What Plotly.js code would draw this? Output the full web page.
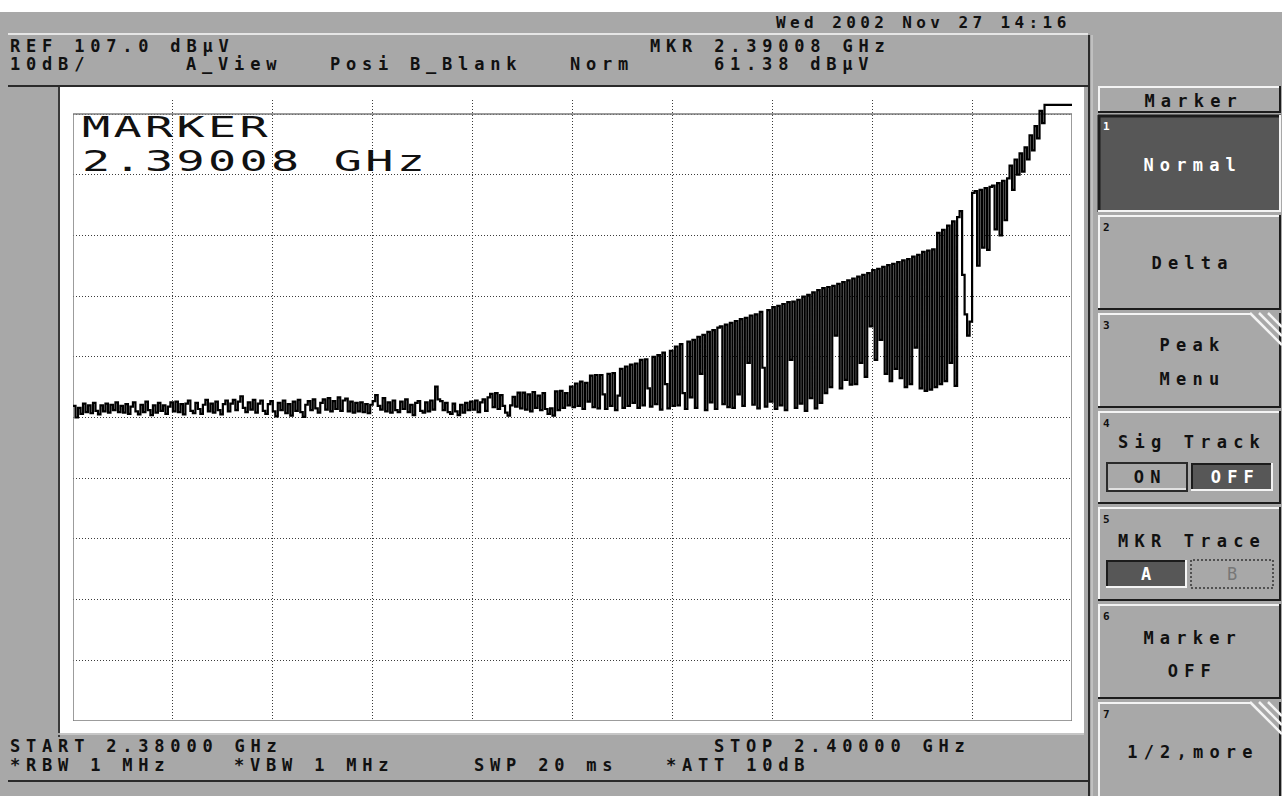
<!DOCTYPE html>
<html>
<head>
<meta charset="utf-8">
<script src="https://cdn.plot.ly/plotly-3.0.1.min.js"></script>
<style>
  html, body { margin: 0; padding: 0; background: #a8a8a8; overflow: hidden; }
  #scr { width: 1282px; height: 796px; }
</style>
<style id="textStyle"></style>
</head>
<body>
<div id="scr"></div>
<script>
// Sweep settings shown on the analyzer screen
const START_GHZ = 2.38000;
const STOP_GHZ = 2.40000;
const REF_DBUV = 107.0;
const DB_PER_DIV = 10;
const DIVISIONS = 10;
const MARKER_GHZ = "2.39008";
const MARKER_DBUV = "61.38";

// Trace A, dBµV, one value per sweep point from START to STOP
const traceA = [
  58.9, 57.0, 58.6, 57.6, 59.3, 57.9, 59.0, 57.7, 59.4, 58.1, 57.5, 59.0, 58.0, 59.3, 57.8, 59.1, 58.2, 59.5, 57.9, 58.9,
  57.8, 59.2, 57.6, 58.8, 59.5, 58.0, 57.5, 59.1, 57.9, 59.6, 58.2, 57.4, 59.0, 57.8, 59.4, 58.1, 59.0, 57.6, 58.8, 59.5,
  58.0, 59.6, 57.9, 59.2, 57.5, 59.3, 59.8, 58.1, 57.7, 59.4, 58.4, 57.6, 59.1, 59.9, 58.0, 59.3, 57.8, 59.6, 58.2, 57.5,
  59.2, 59.8, 58.0, 59.3, 59.9, 58.2, 59.6, 60.5, 58.6, 57.9, 59.5, 58.3, 59.9, 57.8, 59.3, 59.8, 58.1, 57.6, 59.2, 59.7,
  58.0, 57.2, 59.4, 58.2, 59.8, 57.7, 59.2, 57.3, 59.6, 58.1, 59.9, 57.9, 57.1, 59.1, 59.7, 58.2, 60.0, 58.5, 57.8, 59.4,
  60.0, 58.3, 60.2, 58.0, 59.7, 58.4, 60.3, 58.1, 59.8, 60.1, 58.0, 59.6, 57.8, 59.4, 58.0, 59.5, 57.9, 59.2, 57.7, 59.1,
  59.7, 60.7, 58.9, 58.3, 60.2, 58.0, 59.5, 57.8, 59.8, 58.2, 57.9, 59.6, 58.4, 60.0, 57.9, 59.1, 57.4, 59.4, 59.7, 58.1,
  57.8, 59.5, 58.0, 59.8, 58.3, 62.1, 60.0, 59.7, 58.2, 59.4, 57.9, 57.6, 59.3, 58.0, 57.4, 59.1, 57.8, 59.4, 58.2, 59.6,
  58.3, 59.8, 57.9, 59.5, 60.0, 58.1, 60.3, 60.9, 58.7, 61.0, 58.4, 60.7, 58.9, 57.8, 57.3, 59.0, 60.4, 58.8, 61.1, 58.5,
  61.1, 58.3, 60.8, 58.0, 61.2, 58.6, 60.6, 58.2, 61.0, 58.4, 57.6, 58.5, 57.3, 61.3, 58.2, 61.4, 58.6, 61.0, 59.0, 62.1,
  58.7, 62.6, 58.9, 62.9, 58.4, 62.7, 59.6, 63.9, 58.7, 64.0, 58.5, 64.0, 60.8, 58.4, 64.2, 58.9, 64.3, 58.2, 60.6, 65.0,
  58.6, 65.4, 58.9, 65.7, 59.4, 65.9, 58.6, 66.5, 59.0, 66.6, 61.8, 58.8, 67.0, 59.2, 67.3, 58.3, 67.7, 62.5, 58.5, 68.0,
  58.9, 68.7, 59.0, 69.1, 61.0, 58.4, 69.5, 60.3, 69.8, 58.6, 70.3, 64.2, 70.6, 58.2, 71.1, 59.5, 71.4, 58.4, 71.8, 72.0,
  59.2, 72.3, 58.7, 72.6, 58.6, 72.9, 60.8, 73.2, 58.9, 73.4, 66.0, 73.8, 59.1, 74.0, 58.5, 74.4, 65.2, 58.8, 74.7, 59.6,
  75.2, 58.4, 75.4, 59.0, 75.7, 58.2, 76.0, 66.5, 76.1, 58.6, 76.4, 59.3, 76.9, 58.1, 77.2, 60.2, 77.6, 58.5, 78.0, 59.4,
  78.3, 61.0, 78.5, 62.0, 78.7, 70.5, 79.0, 61.8, 79.3, 63.2, 79.6, 62.4, 79.9, 62.5, 80.2, 66.0, 80.5, 63.7, 80.8, 72.0,
  81.3, 66.5, 81.5, 69.8, 81.8, 64.2, 82.1, 63.0, 82.3, 65.0, 82.6, 63.5, 82.9, 62.0, 83.1, 62.5, 83.5, 68.5, 83.8, 61.8,
  84.3, 61.4, 84.5, 61.6, 84.7, 62.0, 87.4, 62.5, 87.9, 63.0, 88.6, 66.0, 89.3, 62.2, 90.0, 91.0, 80.5, 74.0, 70.5, 72.8,
  94.0, 94.3, 82.0, 94.5, 85.0, 94.8, 84.6, 95.0, 95.2, 88.0, 95.6, 87.0, 96.0, 89.5, 96.4, 98.5, 94.5, 99.5, 97.0, 100.5,
  97.5, 101.5, 99.5, 103.5, 101.0, 105.0, 103.0, 107.5, 105.5, 108.5, 108.5, 108.5, 108.5, 108.5, 108.5, 108.5, 108.5, 108.5, 108.5, 108.5,
  108.5
];

// Screen annotations
const headerLeft = ["REF 107.0 dBµV", "10dB/", "A_View", "Posi", "B_Blank", "Norm"];
const dateText = "Wed 2002 Nov 27 14:16";
const footerTexts = ["START 2.38000 GHz", "STOP 2.40000 GHz", "*RBW 1 MHz", "*VBW 1 MHz", "SWP 20 ms", "*ATT 10dB"];
const softkeyTitle = "Marker";
const softkeyLabels = [["Normal"], ["Delta"], ["Peak", "Menu"], ["Sig Track"], ["MKR Trace"], ["Marker", "OFF"], ["1/2,more"]];

// ---- screen geometry (pixels) ----
const W = 1282, H = 796;
const PL = 73, PR = 1072, PT = 100, PB = 721;     // plotting area
const GRID_TOP = 114;                              // top graticule line (REF level)
const pxPerDb = (PB - GRID_TOP) / (DB_PER_DIV * DIVISIONS);
const bottomDb = REF_DBUV - DB_PER_DIV * DIVISIONS;
const topDb = REF_DBUV + (GRID_TOP - PT) / pxPerDb;

const fx = p => (p - PL) / (PR - PL);
const fy = p => (PB - p) / (PB - PT);

const GRAY = '#a8a8a8', DARKKEY = '#575757', HI = '#f4f4f4', LO = '#1c1c1c';
const shapes = [];

function box(x0, y0, x1, y1, fill, line) {
  shapes.push({type: 'rect', xref: 'paper', yref: 'paper', layer: 'below',
    x0: fx(x0), x1: fx(x1), y0: fy(y1), y1: fy(y0), fillcolor: fill,
    line: line || {width: 0}});
}
function seg(x0, y0, x1, y1, color, w, dash) {
  shapes.push({type: 'line', xref: 'paper', yref: 'paper', layer: 'above',
    x0: fx(x0), y0: fy(y0), x1: fx(x1), y1: fy(y1),
    line: {color: color, width: w, dash: dash || 'solid'}});
}
function bevel(x0, y0, x1, y1, fill, pressed, topStop) {
  const tl = pressed ? LO : HI, br = pressed ? HI : LO;
  box(x0, y0, x1, y1, fill);
  seg(x0, y0 + 1, topStop || x1, y0 + 1, tl, pressed ? 3 : 2);
  seg(x0 + 1, y0, x0 + 1, y1, tl, pressed ? 3 : 2);
  seg(x0, y1 - 1, x1, y1 - 1, br, 2);
  seg(x1 - 1, y0, x1 - 1, y1, br, 2);
}
function corner(yTop) {
  [1250, 1259, 1268].forEach(x0 => seg(x0, yTop, 1282, yTop + (1282 - x0), HI, 2.5));
}

// page frame
box(0, 0, W, 12, '#ffffff');
seg(8, 34, 1088, 34, '#e6e6e6', 2);
seg(8, 86, 1088, 86, '#2a2a2a', 2);
seg(1089, 35, 1089, H, '#2a2a2a', 2);
seg(1092, 35, 1092, H, '#d8d8d8', 1);
seg(8, 781, 1088, 781, '#2a2a2a', 2);
// white display panel
box(58, 87, 1084, 733, '#ffffff');
seg(59, 87, 59, 737, '#3a3a3a', 2);
seg(58, 734, 1084, 734, '#d0d0d0', 1.5);

// graticule frame
shapes.push({type: 'rect', xref: 'x', yref: 'y', layer: 'between',
  x0: START_GHZ, x1: STOP_GHZ, y0: bottomDb, y1: REF_DBUV,
  line: {color: '#7c7c7c', width: 1.5}, fillcolor: 'rgba(0,0,0,0)'});

// softkeys
const keyTops = [115, 215, 313, 411, 507, 604, 702];
const keyBots = [212, 310, 408, 504, 601, 699, 800];
bevel(1098, 86, 1281, 113, GRAY, false);
keyTops.forEach((t, i) => {
  const hasCorner = (i === 2 || i === 6);
  bevel(1098, t, 1281, keyBots[i], i === 0 ? DARKKEY : GRAY, i === 0, hasCorner ? 1250 : null);
  if (hasCorner) corner(t);
});
// ON / OFF selector
box(1107, 463, 1187, 491, GRAY, {color: '#2a2a2a', width: 2});
seg(1109, 489, 1186, 489, HI, 1.5);
box(1191, 463, 1273, 491, DARKKEY);
seg(1191, 464, 1273, 464, LO, 2); seg(1192, 463, 1192, 491, LO, 2);
seg(1191, 490, 1273, 490, HI, 2); seg(1272, 463, 1272, 491, HI, 2);
// A / B selector
box(1106, 560, 1187, 588, DARKKEY);
seg(1106, 561, 1187, 561, LO, 2); seg(1107, 560, 1107, 588, LO, 2);
seg(1106, 587, 1187, 587, HI, 2); seg(1186, 560, 1186, 588, HI, 2);
box(1191, 560, 1273, 588, 'rgba(0,0,0,0)', {color: '#333', width: 1.5, dash: '2px,2px'});

// ---- text ----
const MONO = 'DejaVu Sans Mono';
const annotations = [];
const spacing = [];
const stretched = [];
function txt(s, x, y, o) {
  o = o || {};
  const ls = o.ls === undefined ? 5.8 : o.ls;
  const center = o.anchor === 'center';
  annotations.push({text: s, xref: 'paper', yref: 'paper', showarrow: false,
    x: fx(x + (center ? ls / 2 : 0)), y: fy(y), xanchor: center ? 'center' : 'left', yanchor: 'middle',
    align: center ? 'center' : 'left', borderpad: 0, borderwidth: 0,
    font: {family: MONO, size: o.size || 17, color: o.color || '#111', weight: o.weight || 'bold'}});
  spacing.push(ls);
  stretched.push(!!o.stretch);
}

// marker readout inside the graticule (wide screen font)
txt("MARKER", 82, 127, {size: 24, ls: 1.7, stretch: true, weight: 'normal'});
txt(MARKER_GHZ + " GHz", 82, 161, {size: 24, ls: 1.7, stretch: true, weight: 'normal'});

txt(dateText, 776, 22, {size: 16, ls: 4.4});
txt(headerLeft[0], 10, 46);
txt(headerLeft[1], 10, 64);
txt(headerLeft[2], 186, 64);
txt(headerLeft[3], 330, 64);
txt(headerLeft[4], 410, 64);
txt(headerLeft[5], 570, 64);
txt("MKR " + MARKER_GHZ + " GHz", 650, 46);
txt(MARKER_DBUV + " dBµV", 714, 64);

txt(footerTexts[0], 10, 746);
txt(footerTexts[1], 714, 746);
txt(footerTexts[2], 10, 765);
txt(footerTexts[3], 234, 765);
txt(footerTexts[4], 474, 765);
txt(footerTexts[5], 666, 765);

const SK = {anchor: 'center', weight: 'bold', size: 17, ls: 6.2};
txt(softkeyTitle, 1190, 101, SK);
txt(softkeyLabels[0][0], 1189, 165, Object.assign({}, SK, {color: '#ffffff'}));
txt(softkeyLabels[1][0], 1189, 263, SK);
txt(softkeyLabels[2][0], 1189, 345, SK);
txt(softkeyLabels[2][1], 1189, 379, SK);
txt(softkeyLabels[3][0], 1189, 442, SK);
txt("ON", 1147, 477, SK);
txt("OFF", 1232, 477, Object.assign({}, SK, {color: '#ffffff'}));
txt(softkeyLabels[4][0], 1189, 541, SK);
txt("A", 1146, 574, Object.assign({}, SK, {color: '#ffffff'}));
txt("B", 1232, 574, Object.assign({}, SK, {color: '#777777', weight: 'normal'}));
txt(softkeyLabels[5][0], 1189, 638, SK);
txt(softkeyLabels[5][1], 1189, 671, SK);
txt(softkeyLabels[6][0], 1190, 752, SK);
keyTops.forEach((t, i) => {
  txt(String(i + 1), 1103, t + 12, {size: 11, ls: 0, weight: 'bold', color: i === 0 ? '#ffffff' : '#111'});
});

// per-annotation letter spacing (fixed-cell screen font)
let css = '';
spacing.forEach((ls, i) => {
  css += 'g.annotation[data-index="' + i + '"] text{letter-spacing:' + ls + 'px;' +
    (stretched[i] ? 'transform:scale(1.95,1.2);transform-origin:0 50%;transform-box:fill-box;' : '') + '}\n';
});
document.getElementById('textStyle').textContent = css;

const gridStyle = {showgrid: true, gridcolor: '#3c3c3c', gridwidth: 1, griddash: '1px,2px',
  zeroline: false, showline: false, showticklabels: false, ticks: '', fixedrange: true};

const data = [{
  type: 'scatter', mode: 'lines',
  x0: START_GHZ, dx: (STOP_GHZ - START_GHZ) / (traceA.length - 1),
  y: traceA,
  line: {color: '#000000', width: 2.2, shape: 'hv'},
  hoverinfo: 'skip', showlegend: false
}];

const layout = {
  width: W, height: H, autosize: false,
  margin: {l: PL, r: W - PR, t: PT, b: H - PB, pad: 0, autoexpand: false},
  paper_bgcolor: GRAY, plot_bgcolor: '#ffffff',
  showlegend: false,
  xaxis: Object.assign({range: [START_GHZ, STOP_GHZ], tick0: START_GHZ, dtick: (STOP_GHZ - START_GHZ) / DIVISIONS}, gridStyle),
  yaxis: Object.assign({range: [bottomDb, topDb], tick0: bottomDb, dtick: DB_PER_DIV}, gridStyle),
  shapes: shapes,
  annotations: annotations
};

Plotly.newPlot('scr', data, layout, {displayModeBar: false, staticPlot: true});
</script>
</body>
</html>
